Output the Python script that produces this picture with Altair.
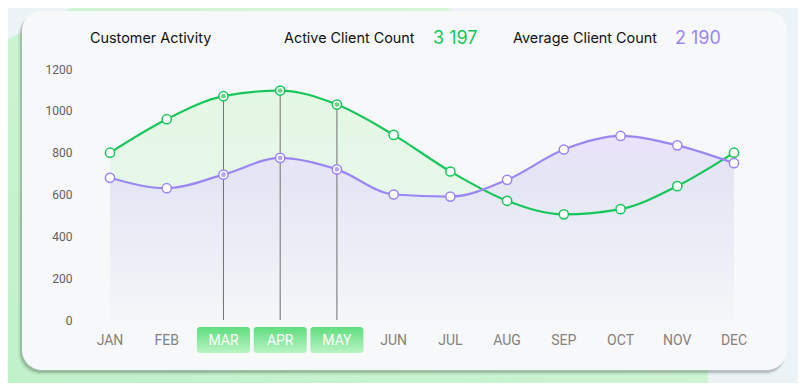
import altair as alt
import pandas as pd

months = ["JAN", "FEB", "MAR", "APR", "MAY", "JUN", "JUL", "AUG", "SEP", "OCT", "NOV", "DEC"]
active = [800, 960, 1070, 1097, 1030, 885, 710, 570, 505, 530, 640, 800]
average = [680, 630, 695, 775, 720, 600, 590, 670, 815, 880, 835, 750]
selected_months = ["MAR", "APR", "MAY"]
y_ticks = [0, 200, 400, 600, 800, 1000, 1200]

GREEN = "#17c65a"
PURPLE = "#9a86f5"

df = pd.DataFrame({"month": months, "active": active, "average": average})
df["sel"] = df["month"].isin(selected_months)
active_total = int(df.loc[df["sel"], "active"].sum())
average_total = int(df.loc[df["sel"], "average"].sum())


def fmt(v):
    return f"{v:,}".replace(",", " ")


one = pd.DataFrame({"k": [0]})

X = alt.X("month:N", sort=months,
          scale=alt.Scale(type="point", domain=months, padding=0), axis=None)
yaxis = alt.Axis(values=y_ticks, format="d", ticks=False, domain=False, grid=False,
                 labelPadding=38, labelFont="Roboto", labelFontSize=12,
                 labelColor="#5f5f5f", title=None, zindex=2)
yscale = alt.Scale(domain=[0, 1200], nice=False)


def grad(stops):
    return alt.Gradient(gradient="linear", x1=0, x2=0, y1=0, y2=1,
                        stops=[alt.GradientStop(color=c, offset=o) for o, c in stops])


# decorative page background (green diagonal shape)
bg_path = "M88,0 L437,0 L708,200 L708,391 L0,391 L0,43 Z"
bg = alt.Chart(one).mark_point(
    shape=bg_path, size=4, filled=True, opacity=1, strokeWidth=0,
    fill=alt.Gradient(gradient="linear", x1=0, x2=1, y1=1, y2=0,
                      stops=[alt.GradientStop(color="#bff1c9", offset=0),
                             alt.GradientStop(color="#daf7dd", offset=1)])
).encode(x=alt.value(-110), y=alt.value(-69))

shadow1 = alt.Chart(one).mark_rect(cornerRadius=22, fill="#000000", opacity=0.06).encode(
    x=alt.value(-92), x2=alt.value(676), y=alt.value(-55), y2=alt.value(306))
shadow2 = alt.Chart(one).mark_rect(cornerRadius=21, fill="#000000", opacity=0.16).encode(
    x=alt.value(-90), x2=alt.value(676), y=alt.value(-56), y2=alt.value(304))
card = alt.Chart(one).mark_rect(cornerRadius=20, fill="#f7f8fa").encode(
    x=alt.value(-88), x2=alt.value(677), y=alt.value(-58), y2=alt.value(301))

base = alt.Chart(df)

green_area = base.mark_area(
    interpolate="monotone",
    fill=grad([(0, "#e3f8e4"), (1, "#edf6f0")])
).encode(x=X, y=alt.Y("active:Q", scale=yscale, axis=yaxis))

purple_area = base.mark_area(
    interpolate="monotone",
    fill=grad([(0, "#eae2fc"), (0.25, "#e4e6f4"), (1, "#f4f6f9")])
).encode(x=X, y=alt.Y("average:Q", scale=yscale, axis=yaxis))

rules = base.transform_filter("datum.sel").mark_rule(color="#707070", strokeWidth=1).encode(
    x=X, y=alt.Y("active:Q", scale=yscale, axis=yaxis), y2=alt.datum(0))

green_line = base.mark_line(interpolate="monotone", color=GREEN, strokeWidth=2.2).encode(
    x=X, y=alt.Y("active:Q", scale=yscale, axis=yaxis))
purple_line = base.mark_line(interpolate="monotone", color=PURPLE, strokeWidth=2.2).encode(
    x=X, y=alt.Y("average:Q", scale=yscale, axis=yaxis))

green_pts = base.mark_point(shape="circle", filled=True, fill="white", stroke=GREEN,
                            strokeWidth=1.5, size=85, opacity=1).encode(
    x=X, y=alt.Y("active:Q", scale=yscale, axis=yaxis))
purple_pts = base.mark_point(shape="circle", filled=True, fill="white", stroke=PURPLE,
                             strokeWidth=1.5, size=85, opacity=1).encode(
    x=X, y=alt.Y("average:Q", scale=yscale, axis=yaxis))

green_dots = base.transform_filter("datum.sel").mark_point(
    shape="circle", filled=True, color="#5fdc80", size=22, opacity=1).encode(
    x=X, y=alt.Y("active:Q", scale=yscale, axis=yaxis))
purple_dots = base.transform_filter("datum.sel").mark_point(
    shape="circle", filled=True, color="#b4a4ff", size=22, opacity=1).encode(
    x=X, y=alt.Y("average:Q", scale=yscale, axis=yaxis))

boxes = base.transform_filter("datum.sel").mark_bar(
    size=53, cornerRadius=3,
    fill=grad([(0, "#5edd7e"), (1, "#b9f3c4")])
).encode(x=X, y=alt.value(258), y2=alt.value(284))

labels = base.mark_text(font="Roboto", fontSize=14, baseline="middle").encode(
    x=X, y=alt.value(272), text="month:N",
    color=alt.condition("datum.sel", alt.value("white"), alt.value("#86817d")))


def header(txt, x, color="#111111", size=14.4):
    return alt.Chart(one).mark_text(text=txt, align="left", baseline="middle",
                                    font="Inter", fontSize=size, color=color).encode(
        x=alt.value(x), y=alt.value(-30))


h1 = header("Customer  Activity", -20)
h2 = header("Active Client Count", 174)
h3 = header(fmt(active_total), 323, GREEN, 18)
h4 = header("Average Client Count", 403)
h5 = header(fmt(average_total), 565, PURPLE, 18)

chart = alt.layer(
    bg, shadow1, shadow2, card,
    green_area, purple_area, rules, green_line, purple_line,
    green_pts, purple_pts, green_dots, purple_dots,
    boxes, labels, h1, h2, h3, h4, h5
).properties(
    width=624, height=251, autosize="none",
    padding={"left": 102, "top": 61, "right": 64, "bottom": 63},
    background="#ebf3f6"
).configure_view(stroke=None)

chart.save("out.html", embed_options={"renderer": "svg", "actions": False})
